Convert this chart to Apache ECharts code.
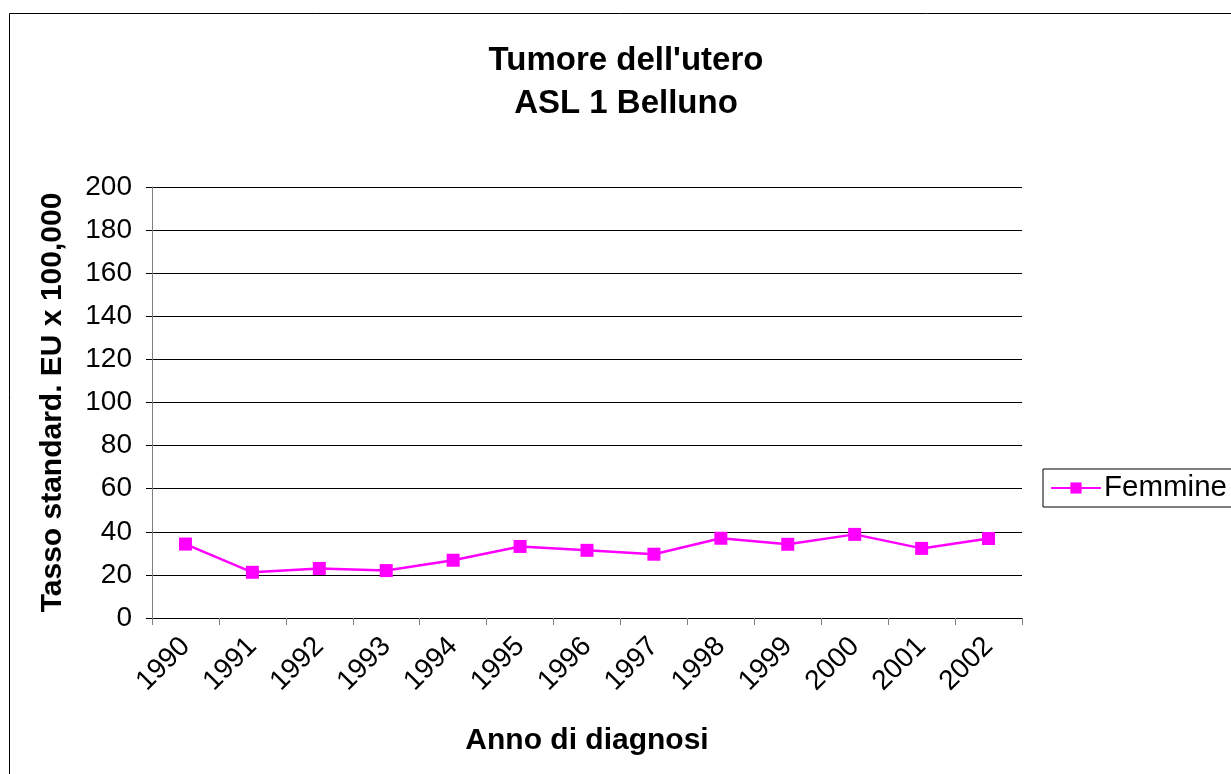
<!DOCTYPE html>
<html>
<head>
<meta charset="utf-8">
<script src="https://cdn.jsdelivr.net/npm/echarts@6/dist/echarts.min.js"></script>
<style>
html,body{margin:0;padding:0;background:#fff;}
#c{width:1231px;height:774px;}
</style>
</head>
<body>
<div id="c"></div>
<script>
const years = ['1990','1991','1992','1993','1994','1995','1996','1997','1998','1999','2000','2001','2002'];
const femmine = [34.3, 21.2, 23.0, 22.0, 26.8, 33.2, 31.4, 29.6, 37.0, 34.2, 38.8, 32.3, 36.9];
const yMin = 0, yMax = 200, yStep = 20;
const seriesName = 'Femmine';
const titleLines = ["Tumore dell'utero", 'ASL 1 Belluno'];
const xTitle = 'Anno di diagnosi';
const yTitle = 'Tasso standard. EU x 100,000';

const FONT = '"Liberation Sans", Arial, sans-serif';
const chart = echarts.init(document.getElementById('c'), null, {renderer:'canvas'});
chart.setOption({
  animation: false,
  backgroundColor: '#ffffff',
  textStyle: {fontFamily: FONT, color: '#000'},
  graphic: [
    {type:'rect', x: 0, y: 0, shape:{x:9.5,y:13.5,width:1300,height:800}, style:{fill:'none', stroke:'#000', lineWidth:1}, silent:true},
    {type:'text', x: 626, y: 61, style:{text: titleLines[0], fontFamily: FONT, fontSize: 33, fontWeight:'bold', fill:'#000', textAlign:'center', textVerticalAlign:'middle'}},
    {type:'text', x: 626, y: 104, style:{text: titleLines[1], fontFamily: FONT, fontSize: 33, fontWeight:'bold', fill:'#000', textAlign:'center', textVerticalAlign:'middle'}}
  ],
  legend: {
    data: [seriesName],
    left: 1043, top: 469,
    orient: 'vertical',
    padding: [4, 30, 4, 7],
    borderColor: '#000', borderWidth: 1, borderRadius: 0,
    itemWidth: 50, itemHeight: 14,
    textStyle: {fontFamily: FONT, fontSize: 29.5, color: '#000', padding:[0,0,0,-2]}
  },
  grid: {left: 152, right: 209, top: 187, bottom: 156, containLabel: false},
  xAxis: {
    type: 'category',
    data: years,
    boundaryGap: true,
    name: xTitle,
    nameLocation: 'middle',
    nameGap: 108,
    nameTextStyle: {fontFamily: FONT, fontSize: 30, fontWeight: 'bold', color: '#000'},
    axisLine: {lineStyle: {color: '#000', width: 1}},
    axisTick: {show: true, length: 7, lineStyle: {color: '#808080'}},
    axisLabel: {rotate: 45, margin: 24, fontFamily: FONT, fontSize: 28, color: '#000', interval: 0},
    splitLine: {show: false}
  },
  yAxis: {
    type: 'value',
    min: yMin, max: yMax, interval: yStep,
    name: yTitle,
    nameLocation: 'middle',
    nameGap: 84,
    nameTextStyle: {fontFamily: FONT, fontSize: 30, fontWeight: 'bold', color: '#000'},
    axisLine: {show: true, lineStyle: {color: '#808080', width: 1}},
    axisTick: {show: true, length: 6, lineStyle: {color: '#000'}},
    axisLabel: {margin: 20, fontFamily: FONT, fontSize: 28, color: '#000'},
    splitLine: {show: true, lineStyle: {color: '#000', width: 1}}
  },
  series: [{
    name: seriesName,
    type: 'line',
    data: femmine,
    symbol: 'rect',
    symbolSize: 13,
    itemStyle: {color: '#FF00FF'},
    lineStyle: {color: '#FF00FF', width: 2.5}
  }]
});
</script>
</body>
</html>
